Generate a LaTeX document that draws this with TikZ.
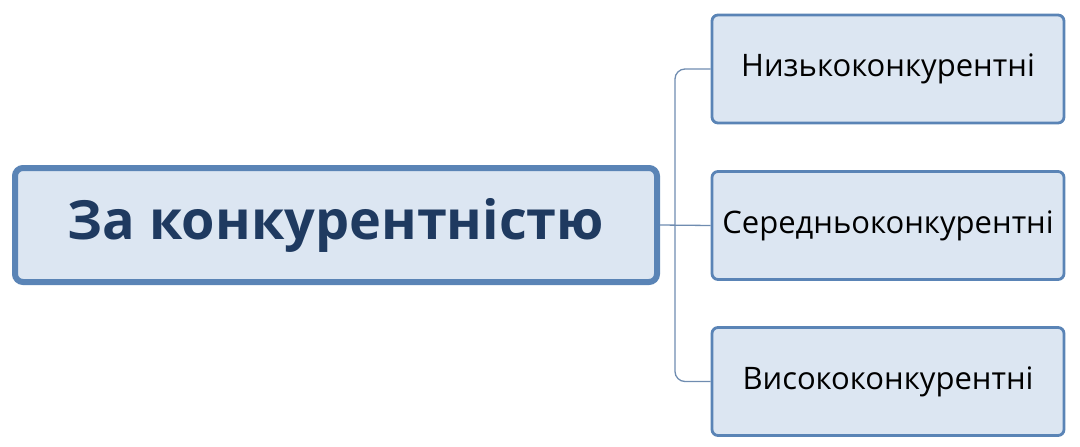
\documentclass[tikz,border=0pt]{standalone}
\usepackage{fontspec}
\setmainfont{Open Sans}
\begin{document}
\begin{tikzpicture}[x=1pt,y=-1pt,
  main/.style={draw=mainb,line width=6pt,fill=boxf,rounded corners=8pt,minimum width=642pt,minimum height=114pt,font=\fontsize{54}{60}\selectfont\bfseries,text=maint},
  sub/.style={draw=mainb,line width=2.8pt,fill=boxf,rounded corners=6pt,minimum width=352pt,minimum height=108pt,font=\fontsize{31}{36}\selectfont,text=black,inner sep=0pt},
  con/.style={draw=conc,line width=1.3pt,rounded corners=10pt}]
\definecolor{mainb}{HTML}{5A84B6}
\definecolor{boxf}{HTML}{DCE6F2}
\definecolor{maint}{HTML}{1F3A60}
\definecolor{conc}{HTML}{6F8CB0}
\useasboundingbox (0,0) rectangle (1080,447);
\node[main] (m) at (336,225) {За конкурентністю};
\node[sub] (a) at (888,69) {Низькоконкурентні};
\node[sub] (b) at (888,225.5) {Середньоконкурентні};
\node[sub] (c) at (888,381.5) {Висококонкурентні};
\coordinate (j) at (675,225);
\draw[con] (m.east) -- (b.west);
\draw[con] (a.west) -| (j) |- (c.west);
\end{tikzpicture}
\end{document}
